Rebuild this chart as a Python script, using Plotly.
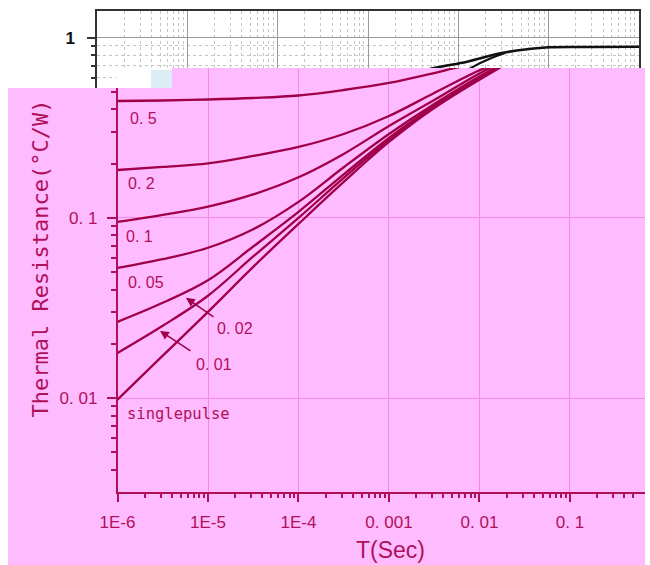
import math
import plotly.graph_objects as go

W, H = 650, 565

# ---------------- data (lower, pink chart) ----------------
duty_labels = ["0. 5", "0. 2", "0. 1", "0. 05", "0. 02", "0. 01", "singlepulse"]

t_grid = [1e-6, 3.16e-6, 1e-5, 3.16e-5, 1e-4, 3.16e-4, 1e-3, 3.16e-3]

t_05 = t_grid + [5.4e-3, 3e-2]
r_05 = [0.4455, 0.4484, 0.4541, 0.4630, 0.4780, 0.5128, 0.5609, 0.6370, 0.68, 0.80]

t_02 = t_grid + [1.15e-2, 3e-2]
r_02 = [0.1845, 0.1918, 0.2005, 0.2207, 0.2476, 0.2922, 0.3679, 0.4935, 0.68, 0.80]

t_01 = t_grid + [1.31e-2, 3e-2]
r_01 = [0.0950, 0.1039, 0.1155, 0.1350, 0.1680, 0.2265, 0.3237, 0.4513, 0.68, 0.80]

t_005 = t_grid + [1.48e-2, 3e-2]
r_005 = [0.0528, 0.0590, 0.0683, 0.0865, 0.1227, 0.1910, 0.2922, 0.4288, 0.68, 0.80]

t_002 = t_grid + [1.56e-2, 3e-2]
r_002 = [0.0265, 0.0338, 0.0451, 0.0694, 0.1080, 0.1745, 0.2778, 0.4180, 0.68, 0.80]

t_001 = t_grid + [1.58e-2, 3e-2]
r_001 = [0.0178, 0.0252, 0.0370, 0.0611, 0.1000, 0.1667, 0.2708, 0.4127, 0.68, 0.80]

t_single = t_grid + [1.66e-2, 3e-2]
r_single = [0.0098, 0.0172, 0.0301, 0.0535, 0.0926, 0.1584, 0.2639, 0.4074, 0.68, 0.80]

x_tickvals = [1e-6, 1e-5, 1e-4, 1e-3, 1e-2, 1e-1]
x_ticktext = ["1E-6", "1E-5", "1E-4", "0. 001", "0. 01", "0. 1"]
y_tickvals = [0.01, 0.1]
y_ticktext = ["0. 01", "0. 1"]

# ---------------- data (upper, partly hidden chart) ----------------
t_top_a = [2.26e-3, 5.26e-3, 1.25e-2, 2.9e-2, 5.78e-2, 0.104, 0.288, 1.0]
r_top_a = [0.60, 0.676, 0.736, 0.819, 0.862, 0.885, 0.888, 0.891]
t_top_b = [9.2e-3, 1.35e-2, 2.43e-2, 3.3e-2]
r_top_b = [0.60, 0.676, 0.778, 0.822]
top_y_tickvals = [1]
top_y_ticktext = ["1"]

# ---------------- styling ----------------
PINK = "#ffbbff"
CURVE = "#a0004a"
TXT = "#b0105a"
GRID = "#f38ae6"
SANS = "Liberation Sans, Arial, sans-serif"
MONO = "DejaVu Sans Mono, Liberation Mono, monospace"


def fx(px):
    return px / W


def fy(py):
    return 1 - py / H


def decades_minor(lo_exp, hi_exp, upto=None):
    vals = []
    for e in range(lo_exp, hi_exp):
        for m in range(2, 10):
            v = m * 10 ** e
            if upto is None or v <= upto:
                vals.append(v)
    return vals


fig = go.Figure()

# upper chart curves
fig.add_trace(go.Scatter(x=t_top_a, y=r_top_a, xaxis="x", yaxis="y", mode="lines",
                         line=dict(color="#111111", width=2.6, shape="spline"),
                         showlegend=False, hoverinfo="skip"))
fig.add_trace(go.Scatter(x=t_top_b, y=r_top_b, xaxis="x", yaxis="y", mode="lines",
                         line=dict(color="#111111", width=2.2, shape="spline"),
                         showlegend=False, hoverinfo="skip"))

# lower chart curves
series = [(t_05, r_05), (t_02, r_02), (t_01, r_01), (t_005, r_005),
          (t_002, r_002), (t_001, r_001), (t_single, r_single)]
for (tt, rr), name in zip(series, duty_labels):
    fig.add_trace(go.Scatter(x=tt, y=rr, xaxis="x2", yaxis="y2", mode="lines", name=name,
                             line=dict(color=CURVE, width=2.3, shape="spline", smoothing=1.0),
                             showlegend=False, hoverinfo="skip"))

L = math.log10

annotations = []
# curve labels (data coords; annotation positions on log axes are log10 values)
label_pos = [
    ("0. 5", 1.3e-6, 0.3585, SANS, 16),
    ("0. 2", 1.25e-6, 0.1545, SANS, 16),
    ("0. 1", 1.18e-6, 0.0789, SANS, 16),
    ("0. 05", 1.25e-6, 0.0439, SANS, 16),
    ("0. 02", 1.19e-5, 0.02424, SANS, 16),
    ("0. 01", 7.0e-6, 0.0154, SANS, 16),
    ("singlepulse", 1.21e-6, 0.00813, MONO, 15.5),
]
for text, xv, yv, fam, sz in label_pos:
    annotations.append(dict(text=text, x=L(xv), y=L(yv), xref="x2", yref="y2",
                            xanchor="left", yanchor="middle", showarrow=False,
                            font=dict(family=fam, size=sz, color=TXT)))
# arrows
for tip_x, tip_y, ax, ay in [(5.71e-6, 0.0360, 29, 20), (2.95e-6, 0.0236, 32, 21)]:
    annotations.append(dict(text="", x=L(tip_x), y=L(tip_y), xref="x2", yref="y2",
                            ax=ax, ay=ay, showarrow=True, arrowhead=2, arrowsize=1.1,
                            arrowwidth=1.6, arrowcolor=CURVE, standoff=0))
# axis titles
annotations.append(dict(text="Thermal Resistance(°C/W)", x=fx(40), y=fy(258.5),
                        xref="paper", yref="paper", xanchor="center", yanchor="middle",
                        textangle=-90, showarrow=False,
                        font=dict(family=MONO, size=22, color=TXT)))
annotations.append(dict(text="T(Sec)", x=fx(390), y=fy(550), xref="paper", yref="paper",
                        xanchor="center", yanchor="middle", showarrow=False,
                        font=dict(family=SANS, size=23, color=TXT)))

shapes = [
    # white background for the upper chart
    dict(type="rect", xref="paper", yref="paper", x0=fx(97), x1=fx(639), y0=fy(88), y1=fy(11),
         fillcolor="white", line=dict(width=0), layer="below"),
    # pink panel (left/bottom part outside the lower plot area)
    dict(type="rect", xref="paper", yref="paper", x0=fx(8), x1=fx(645), y0=0, y1=fy(88),
         fillcolor=PINK, line=dict(width=0), layer="below"),
    # notch that stays white
    dict(type="rect", xref="paper", yref="paper", x0=fx(116), x1=fx(172), y0=fy(88), y1=fy(67.5),
         fillcolor="white", line=dict(width=0), layer="above"),
    dict(type="rect", xref="paper", yref="paper", x0=fx(151), x1=fx(172), y0=fy(88), y1=fy(70),
         fillcolor="#dcedf6", line=dict(width=0), layer="above"),
]

fig.update_layout(
    width=W, height=H, autosize=False,
    margin=dict(l=0, r=0, t=0, b=0, pad=0),
    paper_bgcolor="white", plot_bgcolor=PINK,
    showlegend=False,
    annotations=annotations, shapes=shapes,
    xaxis=dict(type="log", domain=[fx(97), fx(639)], range=[-6, 0], anchor="y", side="top",
               automargin=False,
               showline=True, linecolor="#333333", linewidth=1.5, ticks="",
               showticklabels=False, tickvals=[1e-6, 1e-5, 1e-4, 1e-3, 1e-2, 1e-1, 1],
               showgrid=True, gridcolor="#9a9a9a", gridwidth=1, zeroline=False,
               minor=dict(tickvals=decades_minor(-6, 0), showgrid=True, gridcolor="#c4c4c4",
                          griddash="dot", gridwidth=1, ticks="")),
    yaxis=dict(type="log", domain=[fy(88), fy(11)], range=[-0.279, 0.148], anchor="x",
               automargin=False,
               showline=True, mirror=True, linecolor="#333333", linewidth=1.5,
               ticks="outside", ticklen=8, tickwidth=1.5, tickcolor="#333333",
               tickvals=top_y_tickvals, ticktext=top_y_ticktext, ticklabelstandoff=9,
               tickfont=dict(family=SANS, size=17, color="#111111", weight="bold"),
               showgrid=True, gridcolor="#9a9a9a", gridwidth=1, zeroline=False,
               minor=dict(tickvals=[0.5, 0.6, 0.7, 0.8, 0.9], ticks="outside", ticklen=4,
                          tickwidth=1.5, tickcolor="#333333", showgrid=True,
                          gridcolor="#c4c4c4", griddash="dot", gridwidth=1)),
    xaxis2=dict(type="log", domain=[fx(117.5), fx(645)], range=[-6, -0.171], anchor="y2",
                automargin=False,
                showline=True, linecolor=TXT, linewidth=1.5,
                ticks="outside", ticklen=8, tickwidth=1.5, tickcolor=TXT,
                tickvals=x_tickvals, ticktext=x_ticktext, ticklabelstandoff=6,
                tickfont=dict(family=SANS, size=17, color=TXT),
                showgrid=True, gridcolor=GRID, gridwidth=1, zeroline=False,
                minor=dict(tickvals=decades_minor(-6, 0, upto=0.6), ticks="outside", ticklen=4,
                           tickwidth=1.5, tickcolor=TXT, showgrid=False)),
    yaxis2=dict(type="log", domain=[fy(492), fy(68)], range=[-2.521, -0.168], anchor="x2",
                automargin=False,
                showline=True, linecolor=TXT, linewidth=1.5,
                ticks="outside", ticklen=9, tickwidth=1.5, tickcolor=TXT,
                tickvals=y_tickvals, ticktext=y_ticktext, ticklabelstandoff=6,
                tickfont=dict(family=SANS, size=17, color=TXT),
                showgrid=True, gridcolor=GRID, gridwidth=1, zeroline=False,
                minor=dict(tickvals=decades_minor(-3, 0, upto=0.5), ticks="outside", ticklen=5,
                           tickwidth=1.5, tickcolor=TXT, showgrid=False)),
)

fig.write_html("out.html", config={"displayModeBar": False},
               post_script="document.body.style.margin='0px';"
                           "document.body.style.overflow='hidden';")
